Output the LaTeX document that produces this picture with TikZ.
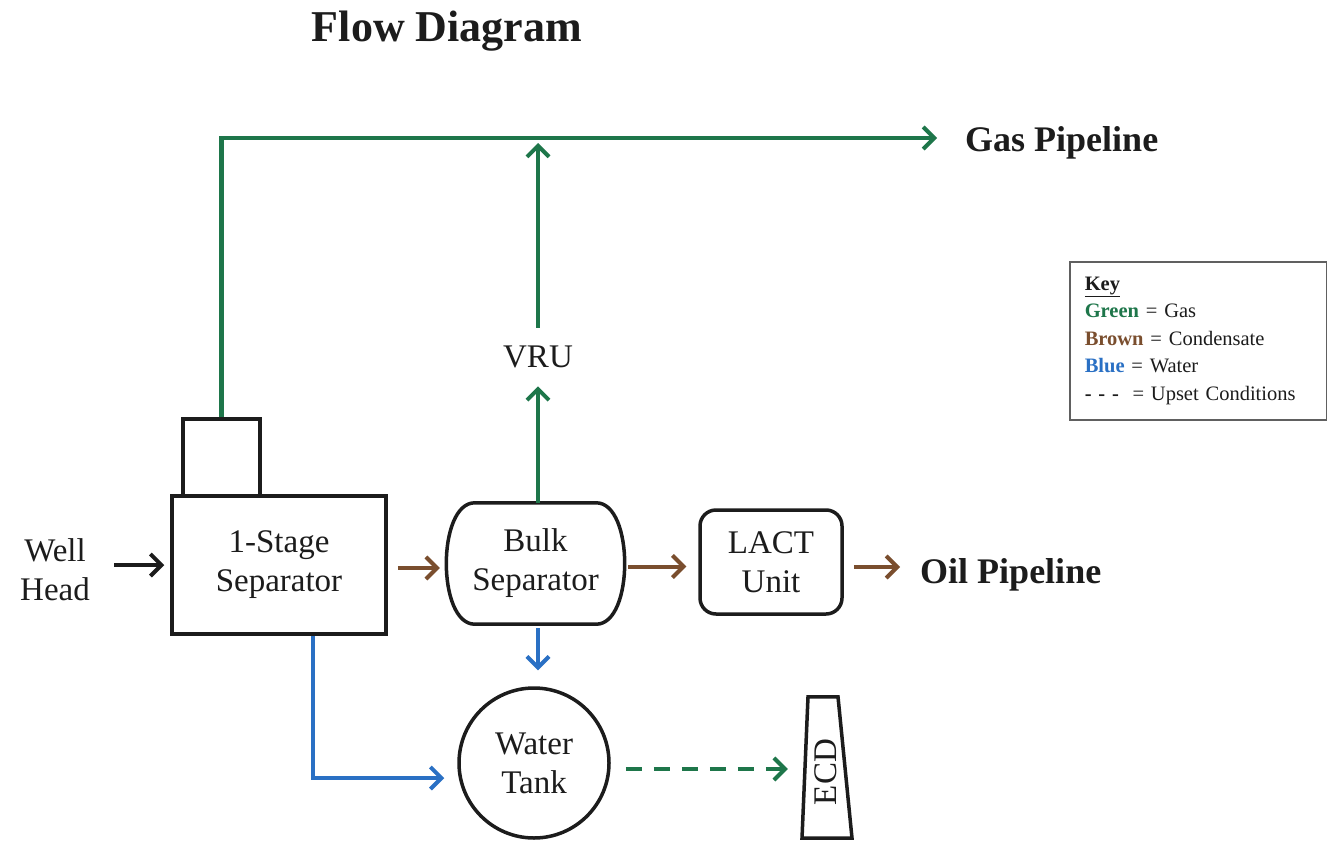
\documentclass[tikz,border=0pt]{standalone}
\usepackage{fontspec}
\setmainfont{Liberation Serif}
\usetikzlibrary{arrows.meta,calc}
\definecolor{gasgreen}{RGB}{30,118,74}
\definecolor{condbrown}{RGB}{122,78,46}
\definecolor{waterblue}{RGB}{42,112,196}
\definecolor{ink}{RGB}{28,28,28}
\begin{document}
\begin{tikzpicture}[x=1pt,y=-1pt,
  outline/.style={draw=ink,line width=3.5pt},
  lbl/.style={font=\fontsize{33}{39}\selectfont,align=center,text=ink,inner sep=0pt},
  biglbl/.style={font=\fontsize{36}{40}\selectfont\bfseries,text=ink,inner sep=0pt},
  flow/.style={line width=4pt,-{Straight Barb[length=11pt,width=22pt,line width=4pt]}},
  gas/.style={flow,draw=gasgreen},
  cond/.style={flow,draw=condbrown},
  water/.style={flow,draw=waterblue},
  feed/.style={flow,draw=ink},
  upset/.style={flow,draw=gasgreen,dash pattern=on 16pt off 12pt}]
\useasboundingbox (0,0) rectangle (1327,843);
\fill[white] (0,0) rectangle (1327,843);

% title
\node[font=\fontsize{44}{48}\selectfont\bfseries,text=ink] (title) at (447,31) {Flow Diagram};

% equipment
\node[outline,minimum width=77pt,minimum height=77pt,inner sep=0pt] (dome) at (221.5,457.5) {};
\node[outline,fill=white,minimum width=214pt,minimum height=138pt,lbl] (sep) at (279,565) {1-Stage\\Separator};
\node[lbl] (well) at (55,570) {Well\\Head};

\node[minimum width=177pt,minimum height=121pt,inner sep=0pt] (bulk) at (535.5,563.5) {};
\draw[outline] ([xshift=28pt]bulk.north west) -- ([xshift=-28pt]bulk.north east)
  .. controls ([xshift=10pt]bulk.north east) and ([xshift=10pt]bulk.south east) .. ([xshift=-28pt]bulk.south east)
  -- ([xshift=28pt]bulk.south west)
  .. controls ([xshift=-10pt]bulk.south west) and ([xshift=-10pt]bulk.north west) .. cycle;
\node[lbl] (bulktext) at (bulk.center) {Bulk\\Separator};

\node[outline,rounded corners=16pt,minimum width=142pt,minimum height=104pt,lbl] (lact) at (771,562) {LACT\\Unit};
\node[biglbl,anchor=west] (oil) at (920,575) {Oil Pipeline};

\node[lbl] (vru) at (538,357) {VRU};
\node[biglbl,anchor=west] (gaspipe) at (965,143) {Gas Pipeline};
\coordinate (gasend) at (937,138);

\node[outline,circle,minimum size=150pt,lbl] (tank) at (534,763) {Water\\Tank};

\node[minimum width=50pt,minimum height=141pt,inner sep=0pt] (ecd) at (827,767.5) {};
\draw[outline] ([xshift=-19pt]ecd.north) -- ([xshift=11pt]ecd.north)
  -- ([xshift=25pt]ecd.south) -- ([xshift=-25pt]ecd.south) -- cycle;
\node[lbl,rotate=90] (ecdtext) at (826,772) {ECD};

% key
\node[draw=ink!70,line width=1.5pt,anchor=north west,minimum width=257pt,minimum height=158pt,
  text width=227pt,inner xsep=15pt,align=left,text=ink,
  font=\fontsize{20.5}{27.5}\selectfont] (key) at (1069,261)
  {\textbf{\underline{Key}}\\
   \textbf{\textcolor{gasgreen}{Green}} = Gas\\
   \textbf{\textcolor{condbrown}{Brown}} = Condensate\\
   \textbf{\textcolor{waterblue}{Blue}} = Water\\
   \textbf{- - -}\ \ = Upset Conditions};

% gas lines
\draw[gas,line width=4.5pt] (dome.north) |- (gasend);
\draw[gas,shorten >=18pt] (bulk.north -| vru.south) -- (vru.south);
\draw[gas,shorten <=18pt,shorten >=5pt] (vru.north) -- (vru.north |- gasend);

% feed and condensate
\draw[feed,shorten <=24pt,shorten >=6pt] (well.east |- sep.west) -- (sep.west);
\draw[cond,shorten <=10pt,shorten >=7pt] ([yshift=-3pt]sep.east) -- ([yshift=-3pt]sep.east -| bulk.west);
\draw[cond,shorten <=4pt,shorten >=12pt] ([yshift=-3pt]bulk.east) -- ([yshift=-3pt]bulk.east -| lact.west);
\draw[cond,shorten <=10pt,shorten >=20pt] ([yshift=-5pt]lact.east) -- ([yshift=-5pt]lact.east -| oil.west);

% water
\draw[water,shorten <=4pt,shorten >=16pt] ([xshift=2.5pt]bulk.south) -- ([xshift=2.5pt]bulk.south |- tank.north);
\draw[water,shorten >=13pt] ([xshift=34pt]sep.south) |- ([yshift=-15pt]tank.west);

% upset
\draw[upset,shorten <=15pt,shorten >=14pt] ([yshift=-6pt]tank.east) -- ([yshift=-6pt]tank.east -| ecd.west);
\end{tikzpicture}
\end{document}
